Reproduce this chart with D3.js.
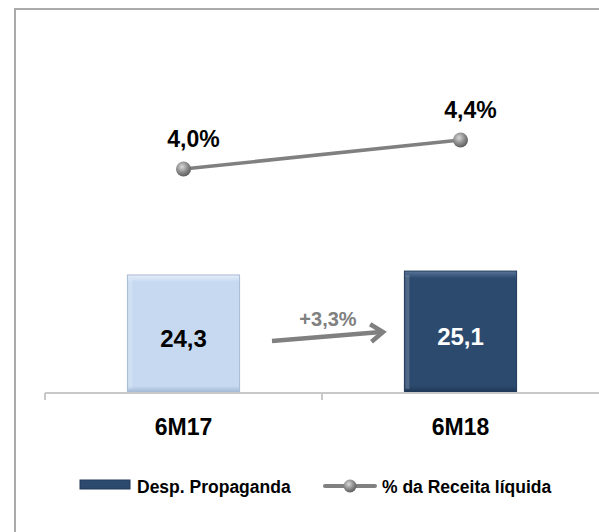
<!DOCTYPE html>
<html>
<head>
<meta charset="utf-8">
<script src="https://cdn.jsdelivr.net/npm/d3@7"></script>
<style>
  body { margin: 0; background: #fff; }
  text { font-family: "Liberation Sans", Arial, sans-serif; font-weight: bold; }
</style>
</head>
<body>
<script>
const categories = ["6M17", "6M18"];
const despPropaganda = [24.3, 25.1];
const pctReceita = [4.0, 4.4];
const growthLabel = "+3,3%";
const seriesNames = ["Desp. Propaganda", "% da Receita líquida"];

const width = 599, height = 532;
const locale = d3.formatLocale({decimal: ",", thousands: ".", grouping: [3], currency: ["R$", ""]});
const fmt1 = locale.format(".1f");

const svg = d3.select("body").append("svg")
    .attr("width", width)
    .attr("height", height);

const defs = svg.append("defs");

// bar bevel gradients
function bevel(id, light, mid, dark) {
    const g = defs.append("linearGradient").attr("id", id)
        .attr("x1", 0).attr("y1", 0).attr("x2", 0).attr("y2", 1);
    g.append("stop").attr("offset", "0%").attr("stop-color", light);
    g.append("stop").attr("offset", "6%").attr("stop-color", mid);
    g.append("stop").attr("offset", "94%").attr("stop-color", mid);
    g.append("stop").attr("offset", "100%").attr("stop-color", dark);
}
bevel("bar0", "#e6eefa", "#c6d9f1", "#9fb4cf");
bevel("bar1", "#5a7598", "#2c4a6e", "#1d3452");

const sphere = defs.append("radialGradient").attr("id", "sphere")
    .attr("cx", "40%").attr("cy", "35%").attr("r", "65%");
sphere.append("stop").attr("offset", "0%").attr("stop-color", "#d8d8d8");
sphere.append("stop").attr("offset", "60%").attr("stop-color", "#8a8a8a");
sphere.append("stop").attr("offset", "100%").attr("stop-color", "#5e5e5e");

// outer frame (runs off the right and bottom edges)
svg.append("rect")
    .attr("x", 15).attr("y", 9)
    .attr("width", 700).attr("height", 700)
    .attr("fill", "none")
    .attr("stroke", "#ababab")
    .attr("stroke-width", 2);

const x = d3.scaleBand().domain(categories).range([45, 599]).padding(0);
const y = d3.scaleLinear().domain([0, 70]).range([393, 53]);
const y2 = d3.scaleLinear().domain([0, 6]).range([459, 24]);

const barW = x.bandwidth() * 0.405;
const cx = d => x(d) + x.bandwidth() / 2;
const barFills = ["url(#bar0)", "url(#bar1)"];
const barStroke = ["#a8bad2", "#22395a"];

// bars
svg.append("g").selectAll("rect")
    .data(categories)
    .join("rect")
    .attr("x", d => cx(d) - barW / 2)
    .attr("y", (d, i) => y(despPropaganda[i]))
    .attr("width", barW)
    .attr("height", (d, i) => y(0) - y(despPropaganda[i]))
    .attr("fill", (d, i) => barFills[i])
    .attr("stroke", (d, i) => barStroke[i])
    .attr("stroke-width", 1);

// side bevel highlights
svg.append("g").selectAll("rect")
    .data(categories)
    .join("rect")
    .attr("x", d => cx(d) - barW / 2 + 1)
    .attr("y", (d, i) => y(despPropaganda[i]) + 4)
    .attr("width", 4)
    .attr("height", (d, i) => y(0) - y(despPropaganda[i]) - 8)
    .attr("fill", "#fff")
    .attr("opacity", 0.18);

// bar labels
svg.append("g").selectAll("text")
    .data(categories)
    .join("text")
    .attr("x", d => cx(d))
    .attr("y", (d, i) => y(despPropaganda[i] / 2) + 13)
    .attr("text-anchor", "middle")
    .attr("font-size", 24)
    .attr("fill", (d, i) => i === 0 ? "#000" : "#fff")
    .text((d, i) => fmt1(despPropaganda[i]));

// x axis
const axis = svg.append("g");
axis.append("line")
    .attr("x1", 45).attr("x2", 599)
    .attr("y1", y(0)).attr("y2", y(0))
    .attr("stroke", "#c8c8c8").attr("stroke-width", 2);
axis.selectAll("line.tick")
    .data([45, x(categories[1])])
    .join("line")
    .attr("class", "tick")
    .attr("x1", d => d).attr("x2", d => d)
    .attr("y1", y(0)).attr("y2", y(0) + 7)
    .attr("stroke", "#c8c8c8").attr("stroke-width", 2);
axis.selectAll("text")
    .data(categories)
    .join("text")
    .attr("x", d => cx(d))
    .attr("y", 435)
    .attr("text-anchor", "middle")
    .attr("font-size", 23)
    .attr("fill", "#000")
    .text(d => d);

// line series
const line = d3.line()
    .x((d, i) => cx(categories[i]))
    .y(d => y2(d));
svg.append("path")
    .datum(pctReceita)
    .attr("d", line)
    .attr("fill", "none")
    .attr("stroke", "#808080")
    .attr("stroke-width", 3.5);
svg.append("g").selectAll("circle")
    .data(pctReceita)
    .join("circle")
    .attr("cx", (d, i) => cx(categories[i]))
    .attr("cy", d => y2(d))
    .attr("r", 7.5)
    .attr("fill", "url(#sphere)");
svg.append("g").selectAll("text")
    .data(pctReceita)
    .join("text")
    .attr("x", (d, i) => cx(categories[i]) + 10)
    .attr("y", d => y2(d) - 22)
    .attr("text-anchor", "middle")
    .attr("font-size", 23)
    .attr("fill", "#000")
    .text(d => fmt1(d) + "%");

// growth arrow
const ax1 = 272, ay1 = 341, ax2 = 383, ay2 = 332;
const ang = Math.atan2(ay2 - ay1, ax2 - ax1);
const head = 15;
const arrow = svg.append("g")
    .attr("stroke", "#808080")
    .attr("stroke-width", 4.5)
    .attr("fill", "none")
    .attr("stroke-linecap", "butt");
arrow.append("line")
    .attr("x1", ax1).attr("y1", ay1)
    .attr("x2", ax2 - 2).attr("y2", ay2);
arrow.append("path")
    .attr("stroke-linejoin", "miter")
    .attr("d", d3.line()([
        [ax2 - head * Math.cos(ang - 0.62), ay2 - head * Math.sin(ang - 0.62)],
        [ax2, ay2],
        [ax2 - head * Math.cos(ang + 0.62), ay2 - head * Math.sin(ang + 0.62)]
    ]));
svg.append("text")
    .attr("x", 328).attr("y", 326)
    .attr("text-anchor", "middle")
    .attr("font-size", 20)
    .attr("fill", "#808080")
    .text(growthLabel);

// legend
const legend = svg.append("g");
legend.append("rect")
    .attr("x", 80).attr("y", 480)
    .attr("width", 50).attr("height", 9)
    .attr("fill", "url(#bar1)")
    .attr("stroke", "#22395a");
legend.append("text")
    .attr("x", 137).attr("y", 493)
    .attr("font-size", 17.5)
    .attr("fill", "#000")
    .text(seriesNames[0]);
legend.append("line")
    .attr("x1", 325).attr("x2", 375)
    .attr("y1", 486).attr("y2", 486)
    .attr("stroke", "#808080")
    .attr("stroke-width", 4)
    .attr("stroke-linecap", "round");
legend.append("circle")
    .attr("cx", 350).attr("cy", 486)
    .attr("r", 6.5)
    .attr("fill", "url(#sphere)");
legend.append("text")
    .attr("x", 382).attr("y", 493)
    .attr("font-size", 17.5)
    .attr("fill", "#000")
    .text(seriesNames[1]);
</script>
</body>
</html>
